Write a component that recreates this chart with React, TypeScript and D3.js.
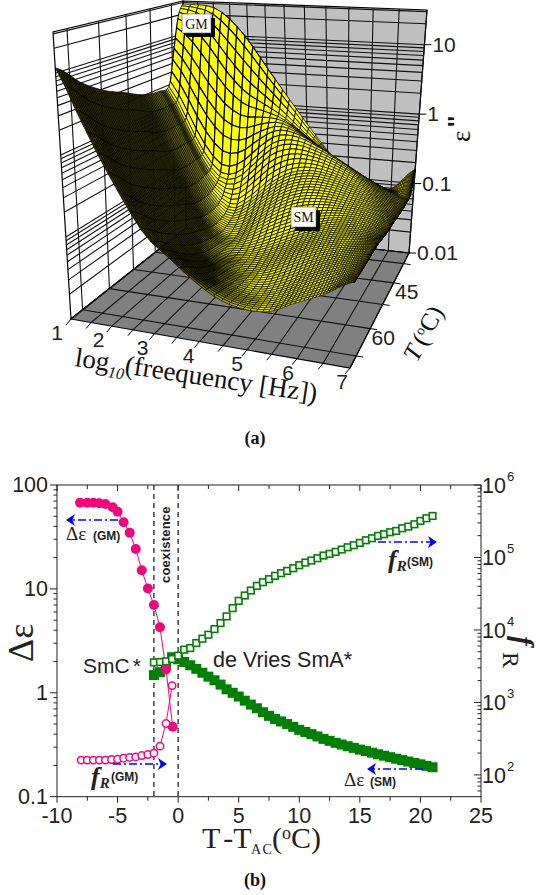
import React from "react";
import * as d3 from "d3";

// ---------- panel (a) : loss surface, log10(eps'') ----------
const surfaceFreq = [1, 1.5, 2, 2.5, 3, 3.5, 4, 4.5, 5, 5.5, 6, 6.5, 7];
// position of each row between the front (0, hot) and the back (1, cold) of the box
const surfaceRows = [0, 0.15, 0.3, 0.45, 0.6, 0.75, 0.85, 0.9, 0.95, 1];
const surfaceLogEps = [
  [1.06, 0.6, 0.1, -0.38, -0.82, -1.05, -1.28, -1.45, -1.52, -1.5, -1.35, -1.2, -1.0],
  [0.78, 0.3, -0.18, -0.66, -1.04, -1.28, -1.42, -1.5, -1.52, -1.42, -1.25, -1.1, -1.0],
  [0.58, 0.1, -0.38, -0.86, -1.23, -1.45, -1.5, -1.5, -1.4, -1.25, -1.12, -1.04, -1.0],
  [0.45, -0.03, -0.53, -1.0, -1.35, -1.5, -1.48, -1.38, -1.25, -1.12, -1.02, -1.0, -1.05],
  [0.32, -0.16, -0.66, -1.12, -1.42, -1.45, -1.25, -1.05, -0.92, -0.88, -0.9, -0.95, -1.07],
  [0.27, -0.18, -0.67, -1.1, -1.3, -1.15, -0.9, -0.72, -0.66, -0.7, -0.8, -0.93, -1.1],
  [0.3, -0.12, -0.6, -0.9, -0.85, -0.6, -0.38, -0.35, -0.45, -0.6, -0.78, -0.95, -1.1],
  [0.82, 0.5, 0.1, -0.2, -0.3, -0.22, -0.18, -0.3, -0.5, -0.72, -0.88, -1.0, -1.1],
  [1.3, 1.2, 0.95, 0.6, 0.3, 0.1, -0.1, -0.35, -0.6, -0.88, -1.02, -1.08, -1.0],
  [1.45, 1.45, 1.42, 1.25, 0.95, 0.55, 0.15, -0.25, -0.62, -0.92, -1.1, -1.1, -0.8],
];
const freqTicks = [1, 2, 3, 4, 5, 6, 7];
const freqGrid = d3.range(1, 7.01, 0.5);
const tempTicks = [45, 60];
const tempGrid = [37.5, 45, 52.5, 60, 67.5];
const epsTicks = [0.01, 0.1, 1, 10];

// ---------- panel (b) ----------
const dEpsGmT = [-8.1, -7.5, -7, -6.5, -6, -5.4, -5, -4.5, -4, -3.5, -3, -2.5, -2, -1.5, -1, -0.45];
const dEpsGm = [67.6, 67.6, 67.6, 66.7, 65.6, 61, 55.3, 43.8, 34.8, 24.2, 15.1, 10.1, 7.0, 4.27, 1.68, 0.472];
const frGmT = [-8, -7.5, -7, -6.5, -6, -5.5, -5, -4.5, -4, -3.5, -3, -2.5, -2, -1.5, -1, -0.5];
const frGm = [160, 160, 160, 160, 160, 163, 164, 170, 174, 177, 185, 191, 199, 249, 511, 1706];
const smT = d3.range(-2, 21.01, 0.5);
const dEpsSm = [
  1.48, 1.58, 1.85, 2.2, 2.1, 1.98, 1.84, 1.7, 1.56, 1.43, 1.32, 1.2, 1.08, 1.0, 0.92, 0.84, 0.77, 0.71, 0.65, 0.6,
  0.56, 0.53, 0.5, 0.47, 0.44, 0.42, 0.4, 0.38, 0.36, 0.345, 0.33, 0.318, 0.306, 0.295, 0.284, 0.275, 0.265, 0.256,
  0.248, 0.24, 0.232, 0.225, 0.218, 0.211, 0.205, 0.198, 0.192,
];
const frSm = [
  3570, 3606, 3690, 3970, 4415, 5340, 5620, 6590, 7570, 8590, 10280, 12440, 15370, 20000, 25200, 29900, 35000, 40600,
  45600, 50200, 55800, 60700, 65300, 71100, 78200, 85100, 90700, 97700, 106400, 112200, 119500, 128600, 138400, 147500,
  158900, 172800, 184200, 198400, 209400, 223000, 232500, 252900, 266900, 287100, 319300, 347500, 374100,
];
const xTicks = [-10, -5, 0, 5, 10, 15, 20, 25];
const xMinor = [-7.5, -2.5, 2.5, 7.5, 12.5, 17.5, 22.5];
const leftTicks = [0.1, 1, 10, 100];
const rightTicks = [100, 1000, 10000, 100000, 1000000];

const SANS = "'Liberation Sans', Arial, sans-serif";
const SERIF = "'Liberation Serif', 'Times New Roman', serif";
const INK = "#222";
const PINK = "#f5057c";
const GREEN = "#008000";
const BLUE = "#0000ff";

// ---------- box projection: homography of the unit square onto a quad ----------
type Pt = [number, number];
function quadMap(a: Pt, d: Pt, c: Pt, b: Pt) {
  // a=(0,0) d=(1,0) c=(1,1) b=(0,1)
  const dx1 = d[0] - c[0], dx2 = b[0] - c[0], sx = a[0] - d[0] + c[0] - b[0];
  const dy1 = d[1] - c[1], dy2 = b[1] - c[1], sy = a[1] - d[1] + c[1] - b[1];
  const den = dx1 * dy2 - dx2 * dy1;
  const g = (sx * dy2 - dx2 * sy) / den;
  const h = (dx1 * sy - sx * dy1) / den;
  return (s: number, t: number): Pt => {
    const q = g * s + h * t + 1;
    return [
      ((d[0] - a[0] + g * d[0]) * s + (b[0] - a[0] + h * b[0]) * t + a[0]) / q,
      ((d[1] - a[1] + g * d[1]) * s + (b[1] - a[1] + h * b[1]) * t + a[1]) / q,
    ];
  };
}
const floorQuad = quadMap([71, 319], [350, 368], [409, 253], [186, 228]);
const roofQuad = quadMap([53, 32], [366, 68], [427, 10], [183, 1]);

const sScale = d3.scaleLinear().domain([1, 7]).range([0, 1]);
const tScale = d3.scaleLinear().domain([70.5, 33]).range([0, 1]);
const wScale = d3.scaleLinear().domain([-2, 1.5]).range([0, 1]);

function project(s: number, t: number, w: number): Pt {
  const a = floorQuad(s, t);
  const b = roofQuad(s, t);
  return [a[0] + (b[0] - a[0]) * w, a[1] + (b[1] - a[1]) * w];
}
const ptsAttr = (pts: Pt[]) => pts.map((p) => `${p[0].toFixed(1)},${p[1].toFixed(1)}`).join(" ");

// smooth read-through of the table for drawing the mesh lines
function cubic(p0: number, p1: number, p2: number, p3: number, u: number) {
  return 0.5 * (2 * p1 + (p2 - p0) * u + (2 * p0 - 5 * p1 + 4 * p2 - p3) * u * u + (3 * p1 - p0 - 3 * p2 + p3) * u * u * u);
}
const rowIndex = d3.scaleLinear().domain(surfaceRows).range(surfaceRows.map((_, i) => i));
function surfaceAt(s: number, t: number) {
  const fi = Math.min(s * (surfaceFreq.length - 1), surfaceFreq.length - 1.0001);
  const ri = Math.min(rowIndex(t), surfaceRows.length - 1.0001);
  const i = Math.floor(fi), j = Math.floor(ri);
  const col = (r: number) => {
    const row = surfaceLogEps[Math.max(0, Math.min(surfaceRows.length - 1, r))];
    const at = (k: number) => row[Math.max(0, Math.min(surfaceFreq.length - 1, k))];
    return cubic(at(i - 1), at(i), at(i + 1), at(i + 2), fi - i);
  };
  return cubic(col(j - 1), col(j), col(j + 1), col(j + 2), ri - j);
}

const shade = d3.scaleLinear<string>().domain([0.14, 0.6]).range(["#2a2a00", "#ffff00"]).clamp(true);
const edgeWidth = d3.scaleLinear().domain([1, 9]).range([0.55, 1.2]).clamp(true);

function buildMesh() {
  const nF = 60, nT = 70;
  const cols = d3.range(nF + 1).map((i) => 1 - Math.pow(1 - i / nF, 2.7));
  const rows = d3.range(nT + 1).map((j) => j / nT);
  const cells: { pts: string; fill: string; sw: number }[] = [];
  for (let j = nT - 1; j >= 0; j--) {
    for (let i = 0; i < nF; i++) {
      const s0 = cols[i], s1 = cols[i + 1], t0 = rows[j], t1 = rows[j + 1];
      const z00 = surfaceAt(s0, t0), z10 = surfaceAt(s1, t0), z01 = surfaceAt(s0, t1), z11 = surfaceAt(s1, t1);
      const pts: Pt[] = [
        project(s0, t0, wScale(z00)),
        project(s1, t0, wScale(z10)),
        project(s1, t1, wScale(z11)),
        project(s0, t1, wScale(z01)),
      ];
      const ds = (wScale((z10 + z11) / 2) - wScale((z00 + z01) / 2)) / (s1 - s0);
      const dt = (wScale((z01 + z11) / 2) - wScale((z00 + z10) / 2)) / ((t1 - t0) * 0.6);
      const len = Math.hypot(ds, dt, 1);
      const lit = (0.85 * dt + 0.5) / len;
      // thinner lines where the cells are squeezed, so the yellow still shows through
      const short = Math.min(
        Math.hypot(pts[1][0] - pts[0][0], pts[1][1] - pts[0][1]),
        Math.hypot(pts[3][0] - pts[0][0], pts[3][1] - pts[0][1])
      );
      cells.push({ pts: ptsAttr(pts), fill: shade(lit), sw: edgeWidth(short) });
    }
  }
  return cells;
}

function Surface3D() {
  const cells = buildMesh();
  const wTop = wScale.range()[1];
  const minorLog = [2, 3, 4, 5, 6, 7, 8, 9];
  const levels: { w: number; major: boolean }[] = [];
  [-2, -1, 0, 1].forEach((d) => {
    levels.push({ w: wScale(d), major: true });
    minorLog.forEach((m) => {
      const v = d + Math.log10(m);
      if (v <= 1.5) levels.push({ w: wScale(v), major: false });
    });
  });
  const line = (a: Pt, b: Pt) => ({ x1: a[0], y1: a[1], x2: b[0], y2: b[1] });
  const leftWall = [project(0, 0, 0), project(0, 1, 0), project(0, 1, wTop), project(0, 0, wTop)];
  const backWall = [project(0, 1, 0), project(1, 1, 0), project(1, 1, wTop), project(0, 1, wTop)];
  const floor = [project(0, 0, 0), project(1, 0, 0), project(1, 1, 0), project(0, 1, 0)];
  const sGrid = freqGrid.map(sScale);
  const tGrid = tempGrid.map(tScale);
  return (
    <g>
      <polygon points={ptsAttr(leftWall)} fill="#fff" stroke="#000" strokeWidth={1.2} />
      <polygon points={ptsAttr(backWall)} fill="#c0c0c0" stroke="#000" strokeWidth={1.2} />
      <polygon points={ptsAttr(floor)} fill="#808080" stroke="#000" strokeWidth={1.2} />
      <g stroke="#111" strokeWidth={1.1}>
        {levels.map((l, i) => (
          <line key={"lw" + i} {...line(project(0, 0, l.w), project(0, 1, l.w))} />
        ))}
        {levels.map((l, i) => (
          <line key={"bw" + i} {...line(project(0, 1, l.w), project(1, 1, l.w))} />
        ))}
        {tGrid.map((t, i) => (
          <line key={"lv" + i} {...line(project(0, t, 0), project(0, t, wTop))} />
        ))}
        {sGrid.map((s, i) => (
          <line key={"bv" + i} {...line(project(s, 1, 0), project(s, 1, wTop))} />
        ))}
        {sGrid.map((s, i) => (
          <line key={"fs" + i} {...line(project(s, 0, 0), project(s, 1, 0))} />
        ))}
        {tGrid.map((t, i) => (
          <line key={"ft" + i} {...line(project(0, t, 0), project(1, t, 0))} />
        ))}
      </g>
      <g stroke="#000" strokeLinejoin="round">
        {cells.map((c, i) => (
          <polygon key={i} points={c.pts} fill={c.fill} strokeWidth={c.sw} />
        ))}
      </g>
      {/* axis ticks */}
      <g stroke="#000" strokeWidth={1}>
        {sGrid.map((s, i) => {
          const p = project(s, 0, 0);
          return <line key={"tf" + i} x1={p[0]} y1={p[1]} x2={p[0] - 5} y2={p[1] + 6} />;
        })}
        {tempGrid.map((v, i) => {
          const p = project(1, tScale(v), 0);
          return <line key={"tt" + i} x1={p[0]} y1={p[1]} x2={p[0] + 7} y2={p[1] + 1} />;
        })}
        {epsTicks.map((v, i) => {
          const p = project(1, 1, wScale(Math.log10(v)));
          return <line key={"tz" + i} x1={p[0]} y1={p[1]} x2={p[0] + 7} y2={p[1]} />;
        })}
      </g>
      <g fontFamily={SANS} fontSize={21} fill={INK}>
        {freqTicks.map((v) => {
          const s = sScale(v);
          const p = project(s, 0, 0);
          return (
            <text key={v} x={p[0] - 14 + 6 * s} y={p[1] + 21} textAnchor="middle">
              {v}
            </text>
          );
        })}
        {tempTicks.map((v) => {
          const p = project(1, tScale(v), 0);
          return (
            <text key={v} x={p[0] + 13} y={p[1] + 16} textAnchor="middle">
              {v}
            </text>
          );
        })}
        {epsTicks.map((v) => {
          const p = project(1, 1, wScale(Math.log10(v)));
          return (
            <text key={v} x={p[0] + 8} y={p[1] + 7}>
              {v}
            </text>
          );
        })}
      </g>
      <text transform="translate(74,366) rotate(8.5)" fontFamily={SERIF} fontSize={27} fill="#111">
        log
        <tspan fontSize={16} fontStyle="italic" dy={6}>
          10
        </tspan>
        <tspan dy={-6}>(freequency [Hz])</tspan>
      </text>
      <text transform="translate(417,363) rotate(-62)" fontFamily={SERIF} fontSize={25} fill="#111">
        <tspan fontStyle="italic">T</tspan>
        <tspan dx={4}>(</tspan>
        <tspan fontSize={14} dy={-8}>
          o
        </tspan>
        <tspan dy={8}>C)</tspan>
      </text>
      <text transform="translate(470,142) rotate(-90)" fontFamily={SERIF} fontSize={27} fill="#111">
        ε
      </text>
      <text transform="translate(465,127) rotate(-90)" fontFamily={SANS} fontWeight="bold" fontSize={23} fill="#111">
        ''
      </text>
      <LabelBox x={182} y={14} w={29} h={19} text="GM" />
      <LabelBox x={291} y={207} w={25} h={20} text="SM" />
      <text x={255} y={444} textAnchor="middle" fontFamily={SERIF} fontWeight="bold" fontSize={18} fill="#111">
        (a)
      </text>
    </g>
  );
}

function LabelBox({ x, y, w, h, text }: { x: number; y: number; w: number; h: number; text: string }) {
  return (
    <g>
      <rect x={x + 4} y={y + 4} width={w} height={h} fill="#000" />
      <rect x={x} y={y} width={w} height={h} fill="#fff" stroke="#555" strokeWidth={0.6} />
      <text x={x + w / 2} y={y + h / 2 + 5} textAnchor="middle" fontFamily={SERIF} fontSize={14} fill="#111">
        {text}
      </text>
    </g>
  );
}

// ---------- panel (b) ----------
const plot = { left: 57, right: 481, top: 485, bottom: 796.7 };
const x = d3.scaleLinear().domain([-10, 25]).range([plot.left, plot.right]);
const yL = d3.scaleLog().domain([0.1, 100]).range([plot.bottom, plot.top]);
const yR = d3.scaleLog().domain([50, 1000000]).range([plot.bottom, plot.top]);

function Arrow({ x1, x2, y }: { x1: number; x2: number; y: number }) {
  const dir = x2 > x1 ? 1 : -1;
  return (
    <g>
      <line x1={x1} y1={y} x2={x2 - dir * 4} y2={y} stroke={BLUE} strokeWidth={1.5} strokeDasharray="8 3 2 3" />
      <path
        d={`M${x2},${y} L${x2 - dir * 9},${y - 6} L${x2 - dir * 6.5},${y} L${x2 - dir * 9},${y + 6} Z`}
        fill={BLUE}
      />
    </g>
  );
}

function Relaxation() {
  const minorL = leftTicks.slice(0, 3).flatMap((d) => d3.range(2, 10).map((m) => d * m));
  const minorR = [60, 70, 80, 90].concat(rightTicks.slice(0, 4).flatMap((d) => d3.range(2, 10).map((m) => d * m)));
  const lineOf = (xs: number[], ys: number[], sc: (v: number) => number) =>
    d3.line<number>()
      .x((_, i) => x(xs[i]))
      .y((v) => sc(v))(ys) as string;
  return (
    <g>
      {[-2, 0].map((v) => (
        <line key={v} x1={x(v)} x2={x(v)} y1={plot.top} y2={plot.bottom} stroke="#333" strokeWidth={1.4} strokeDasharray="5 4" />
      ))}
      <path d={lineOf(dEpsGmT, dEpsGm, yL)} fill="none" stroke={PINK} strokeWidth={1} />
      <path d={lineOf(frGmT, frGm, yR)} fill="none" stroke={PINK} strokeWidth={1} />
      {dEpsSm.map((v, i) => (
        <rect key={i} x={x(smT[i]) - 5} y={yL(v) - 5} width={10} height={10} fill={GREEN} />
      ))}
      {frSm.map((v, i) => (
        <rect key={i} x={x(smT[i]) - 3.3} y={yR(v) - 3.3} width={6.6} height={6.6} fill="#fff" stroke={GREEN} strokeWidth={1.6} />
      ))}
      {dEpsGm.map((v, i) => (
        <circle key={i} cx={x(dEpsGmT[i])} cy={yL(v)} r={5} fill={PINK} />
      ))}
      {frGm.map((v, i) => (
        <circle key={i} cx={x(frGmT[i])} cy={yR(v)} r={3.7} fill="#fff" stroke={PINK} strokeWidth={1.5} />
      ))}
      {/* frame */}
      <rect x={plot.left} y={plot.top} width={plot.right - plot.left} height={plot.bottom - plot.top} fill="none" stroke={INK} strokeWidth={1} />
      <g stroke={INK} strokeWidth={1}>
        {xTicks.map((v) => (
          <g key={v}>
            <line x1={x(v)} x2={x(v)} y1={plot.bottom} y2={plot.bottom + 6} />
            <line x1={x(v)} x2={x(v)} y1={plot.top} y2={plot.top + 6} />
          </g>
        ))}
        {xMinor.map((v) => (
          <g key={v}>
            <line x1={x(v)} x2={x(v)} y1={plot.bottom} y2={plot.bottom + 4} />
            <line x1={x(v)} x2={x(v)} y1={plot.top} y2={plot.top + 4} />
          </g>
        ))}
        {leftTicks.map((v) => (
          <line key={v} x1={plot.left - 7} x2={plot.left} y1={yL(v)} y2={yL(v)} />
        ))}
        {minorL.map((v) => (
          <line key={v} x1={plot.left - 3.5} x2={plot.left} y1={yL(v)} y2={yL(v)} />
        ))}
        {rightTicks.map((v) => (
          <line key={v} x1={plot.right - 7} x2={plot.right} y1={yR(v)} y2={yR(v)} />
        ))}
        {minorR.map((v) => (
          <line key={v} x1={plot.right - 3.5} x2={plot.right} y1={yR(v)} y2={yR(v)} />
        ))}
      </g>
      <g fontFamily={SANS} fontSize={21.5} fill={INK}>
        {xTicks.map((v) => (
          <text key={v} x={x(v)} y={plot.bottom + 26} textAnchor="middle">
            {v}
          </text>
        ))}
        {leftTicks.map((v) => (
          <text key={v} x={plot.left - 9} y={yL(v) + 7} textAnchor="end">
            {v}
          </text>
        ))}
        {rightTicks.map((v) => (
          <text key={v} x={plot.right + 1} y={yR(v) + 8}>
            10
            <tspan fontSize={13} dy={-12} dx={1}>
              {Math.log10(v)}
            </tspan>
          </text>
        ))}
      </g>
      <text transform="translate(33,662) rotate(-90)" fontFamily={SERIF} fontSize={36} fill={INK}>
        Δε
      </text>
      <text transform="translate(513,636) rotate(90)" fontFamily={SERIF} fontSize={29} fontStyle="italic" fontWeight="bold" fill={INK}>
        f
      </text>
      <text transform="translate(503,652) rotate(90)" fontFamily={SERIF} fontSize={24} fill={INK}>
        R
      </text>
      <text x={202} y={848} fontFamily={SERIF} fontSize={30} fill={INK} wordSpacing={-4}>
        T -T
      </text>
      <text x={251} y={854} fontFamily={SERIF} fontSize={14} fill={INK} letterSpacing={1.5}>
        AC
      </text>
      <text x={272} y={848} fontFamily={SERIF} fontSize={30} fill={INK}>
        (
        <tspan fontSize={18} dy={-9}>
          o
        </tspan>
        <tspan dy={9}>C)</tspan>
      </text>
      <text transform={`translate(170,583) rotate(-90)`} fontFamily={SANS} fontWeight="bold" fontSize={13} fill={INK} letterSpacing={0.2}>
        coexistence
      </text>
      <g fontFamily={SANS} fontSize={21} fill={INK}>
        <text x={83} y={673}>
          SmC
          <tspan dx={3}>*</tspan>
        </text>
        <text x={213} y={667} fontSize={21.5}>
          de Vries SmA*
        </text>
      </g>
      <Arrow x1={118} x2={66} y={520} />
      <Arrow x1={113} x2={167} y={764} />
      <Arrow x1={378} x2={437} y={542} />
      <Arrow x1={423} x2={367} y={769} />
      <g fill={INK}>
        <text x={66} y={540} fontFamily={SERIF} fontSize={19}>
          Δε
        </text>
        <text x={93} y={540} fontFamily={SANS} fontWeight="bold" fontSize={12}>
          (GM)
        </text>
        <text x={344} y={786} fontFamily={SERIF} fontSize={19}>
          Δε
        </text>
        <text x={370} y={786} fontFamily={SANS} fontWeight="bold" fontSize={12}>
          (SM)
        </text>
        <text x={91} y={785} fontFamily={SERIF} fontStyle="italic" fontWeight="bold" fontSize={26}>
          f
          <tspan fontSize={15} dy={3}>
            R
          </tspan>
        </text>
        <text x={111} y={781} fontFamily={SANS} fontWeight="bold" fontSize={12}>
          (GM)
        </text>
        <text x={388} y={568} fontFamily={SERIF} fontStyle="italic" fontWeight="bold" fontSize={26}>
          f
          <tspan fontSize={15} dy={3}>
            R
          </tspan>
        </text>
        <text x={407} y={566} fontFamily={SANS} fontWeight="bold" fontSize={12}>
          (SM)
        </text>
      </g>
      <text x={255} y={886} textAnchor="middle" fontFamily={SERIF} fontWeight="bold" fontSize={18} fill="#111">
        (b)
      </text>
    </g>
  );
}

export default function App() {
  return (
    <svg
      width={540}
      height={895}
      viewBox="0 0 540 895"
      style={{ position: "fixed", left: 0, top: 0, background: "#fff" }}
    >
      <Surface3D />
      <Relaxation />
    </svg>
  );
}
